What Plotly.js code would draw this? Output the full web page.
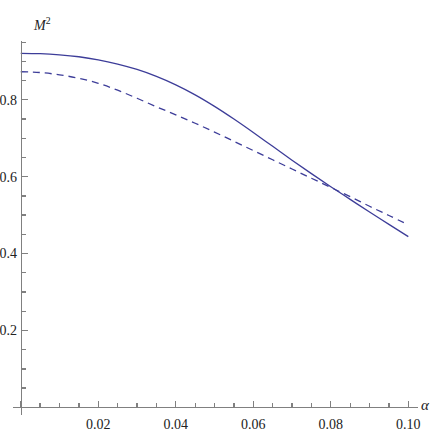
<!DOCTYPE html>
<html>
<head>
<meta charset="utf-8">
<script src="https://cdn.plot.ly/plotly-3.0.1.min.js"></script>
<style>
  html, body { margin: 0; padding: 0; background: #fff; }
  #plot { width: 436px; height: 436px; }
</style>
</head>
<body>
<div id="plot"></div>
<script>
// alpha values (x axis)
var alpha = [0, 0.005, 0.01, 0.015, 0.02, 0.025, 0.03, 0.035, 0.04, 0.045, 0.05,
             0.055, 0.06, 0.065, 0.07, 0.075, 0.08, 0.085, 0.09, 0.095, 0.10];

// M^2, solid curve
var mSolid = [0.921, 0.920, 0.917, 0.912, 0.904, 0.893, 0.879, 0.861, 0.839, 0.813, 0.783,
              0.750, 0.715, 0.679, 0.643, 0.608, 0.574, 0.541, 0.508, 0.476, 0.444];

// M^2, dashed curve
var mDashed = [0.873, 0.871, 0.865, 0.856, 0.843, 0.825, 0.804, 0.782, 0.761, 0.739, 0.716,
               0.692, 0.668, 0.644, 0.620, 0.596, 0.572, 0.548, 0.523, 0.499, 0.475];

// tick steps (major / minor); the zero labels are hidden, the axes cross there
var xTickStep = 0.02, xMinorStep = 0.005;
var yTickStep = 0.2, yMinorStep = 0.05;

var lineColor = '#3d3d99';
var axisColor = '#808080';
var serif = 'Times New Roman';

var xRange = [-0.002, 0.1025];
var yRange = [-0.02, 0.953];

var trace1 = {
  x: alpha,
  y: mSolid,
  type: 'scatter',
  mode: 'lines',
  line: {color: lineColor, width: 1.3, shape: 'spline', smoothing: 1},
  hoverinfo: 'skip'
};

var trace2 = {
  x: alpha,
  y: mDashed,
  type: 'scatter',
  mode: 'lines',
  line: {color: lineColor, width: 1.3, shape: 'spline', smoothing: 1, dash: '7px,5px'},
  hoverinfo: 'skip'
};

var data = [trace1, trace2];

// axes cross at (0, 0) like the original
var layout = {
  width: 436,
  height: 436,
  margin: {l: 12.6, r: 18, t: 40.5, b: 21.3},
  paper_bgcolor: '#fff',
  plot_bgcolor: '#fff',
  showlegend: false,
  font: {family: serif},
  xaxis: {
    range: xRange,
    anchor: 'free',
    position: (0 - yRange[0]) / (yRange[1] - yRange[0]),
    showgrid: false,
    zeroline: false,
    showline: true,
    linecolor: axisColor,
    linewidth: 1,
    ticks: 'inside',
    ticklen: 6,
    tickwidth: 1.3,
    tickcolor: axisColor,
    tickmode: 'linear',
    tick0: 0,
    dtick: xTickStep,
    tickformat: '.2f',
    labelalias: {'0.00': ' ', '0': ' '},
    ticklabelstandoff: 4,
    minor: {ticks: 'inside', ticklen: 4, tickwidth: 1.3, tickcolor: axisColor,
            tick0: 0, dtick: xMinorStep, showgrid: false},
    tickfont: {family: serif, size: 14, color: '#222'}
  },
  yaxis: {
    range: yRange,
    anchor: 'free',
    position: (0 - xRange[0]) / (xRange[1] - xRange[0]),
    showgrid: false,
    zeroline: false,
    showline: true,
    linecolor: axisColor,
    linewidth: 1,
    ticks: 'inside',
    ticklen: 6,
    tickwidth: 1.3,
    tickcolor: axisColor,
    tickmode: 'linear',
    tick0: 0,
    dtick: yTickStep,
    tickformat: '.1f',
    labelalias: {'0.0': ' ', '0': ' '},
    ticklabelstandoff: 1,
    minor: {ticks: 'inside', ticklen: 4, tickwidth: 1.3, tickcolor: axisColor,
            tick0: 0, dtick: yMinorStep, showgrid: false},
    tickfont: {family: serif, size: 14, color: '#222'}
  },
  annotations: [
    {
      text: '<i>M</i><sup>2</sup>',
      xref: 'paper', yref: 'paper', x: 0.045, y: 1.075,
      showarrow: false,
      font: {family: serif, size: 14, color: '#222'}
    },
    {
      text: '<i>α</i>',
      xref: 'paper', yref: 'paper', x: 1.035, y: 0.0,
      showarrow: false,
      font: {family: serif, size: 15, color: '#222'}
    }
  ]
};

Plotly.newPlot('plot', data, layout, {staticPlot: true});
</script>
</body>
</html>
